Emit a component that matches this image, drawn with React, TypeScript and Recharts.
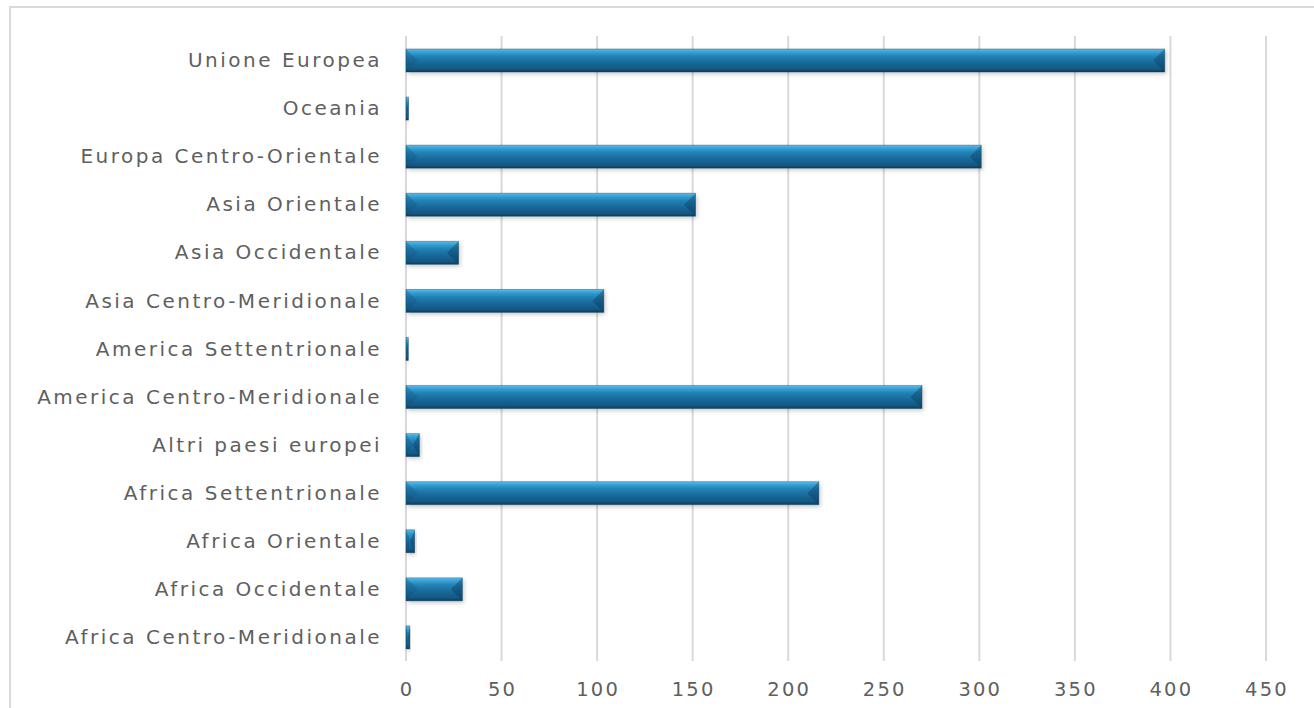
import React from "react";
import { BarChart, Bar, XAxis, YAxis, CartesianGrid } from "recharts";

const categories = [
  "Unione Europea",
  "Oceania",
  "Europa Centro-Orientale",
  "Asia Orientale",
  "Asia Occidentale",
  "Asia Centro-Meridionale",
  "America Settentrionale",
  "America Centro-Meridionale",
  "Altri paesi europei",
  "Africa Settentrionale",
  "Africa Orientale",
  "Africa Occidentale",
  "Africa Centro-Meridionale",
];

const values = [397, 1.3, 301, 151.5, 27.5, 103.5, 1.2, 270, 7, 216, 4.5, 29.5, 2];

const xTicks = [0, 50, 100, 150, 200, 250, 300, 350, 400, 450];

const data = categories.map((name, i) => ({ name, value: values[i] }));

const FONT = "'DejaVu Sans', sans-serif";
const TEXT = "#5f5f5f";

const BevelBar = (props: any) => {
  const { x, y, width, height, index } = props;
  if (!width || width <= 0) return null;
  const w = width;
  const h = height;
  const b = Math.min(h / 2, w / 2);
  const gid = `bg-${index}`;
  const sid = `sh-${index}`;
  return (
    <g>
      <defs>
        <linearGradient id={gid} x1="0" y1="0" x2="0" y2="1">
          <stop offset="0" stopColor="#5cbde9" />
          <stop offset="0.12" stopColor="#3aa2d6" />
          <stop offset="0.32" stopColor="#2282b5" />
          <stop offset="0.6" stopColor="#19699a" />
          <stop offset="0.88" stopColor="#125680" />
          <stop offset="1" stopColor="#0c3d5c" />
        </linearGradient>
        <filter id={sid} x="-10%" y="-30%" width="130%" height="180%">
          <feDropShadow dx="1.5" dy="2" stdDeviation="2" floodColor="#000" floodOpacity="0.22" />
        </filter>
      </defs>
      <rect x={x} y={y} width={w} height={h} fill={`url(#${gid})`} filter={`url(#${sid})`} />
      <polygon
        points={`${x},${y} ${x + b},${y + h / 2} ${x},${y + h}`}
        fill="#0e4f74"
        fillOpacity={0.28}
      />
      <polygon
        points={`${x + w},${y} ${x + w - b},${y + h / 2} ${x + w},${y + h}`}
        fill="#0a3a57"
        fillOpacity={0.4}
      />
      <rect x={x} y={y} width={w} height={h} fill="none" stroke="#0b3c5a" strokeOpacity={0.45} strokeWidth={0.8} />
    </g>
  );
};

export default function App() {
  return (
    <div
      style={{
        position: "fixed",
        left: 0,
        top: 0,
        width: 1314,
        height: 708,
        overflow: "hidden",
        background: "#ffffff",
      }}
    >
      <div
        style={{
          position: "absolute",
          left: 9,
          top: 6,
          width: 1400,
          height: 800,
          border: "2px solid #d9d9d9",
          boxSizing: "border-box",
        }}
      />
      <div style={{ position: "absolute", left: 0, top: 0 }}>
        <BarChart
          width={1314}
          height={708}
          data={data}
          layout="vertical"
          margin={{ top: 36, right: 48, left: 10, bottom: 7 }}
          barSize={23}
        >
          <CartesianGrid horizontal={false} vertical={true} stroke="#d9d9d9" strokeWidth={2} />
          <XAxis
            type="number"
            domain={[0, 450]}
            ticks={xTicks}
            axisLine={false}
            tickLine={false}
            tickMargin={15}
            height={40}
            interval={0}
            tick={{ fill: TEXT, fontSize: 19.5, fontFamily: FONT, letterSpacing: 2.2, dx: 1 }}
          />
          <YAxis
            type="category"
            dataKey="name"
            width={396}
            axisLine={false}
            tickLine={false}
            tickMargin={18}
            interval={0}
            tick={{ fill: TEXT, fontSize: 20, fontFamily: FONT, letterSpacing: 2.5 }}
          />
          <Bar dataKey="value" isAnimationActive={false} shape={<BevelBar />} />
        </BarChart>
      </div>
    </div>
  );
}
